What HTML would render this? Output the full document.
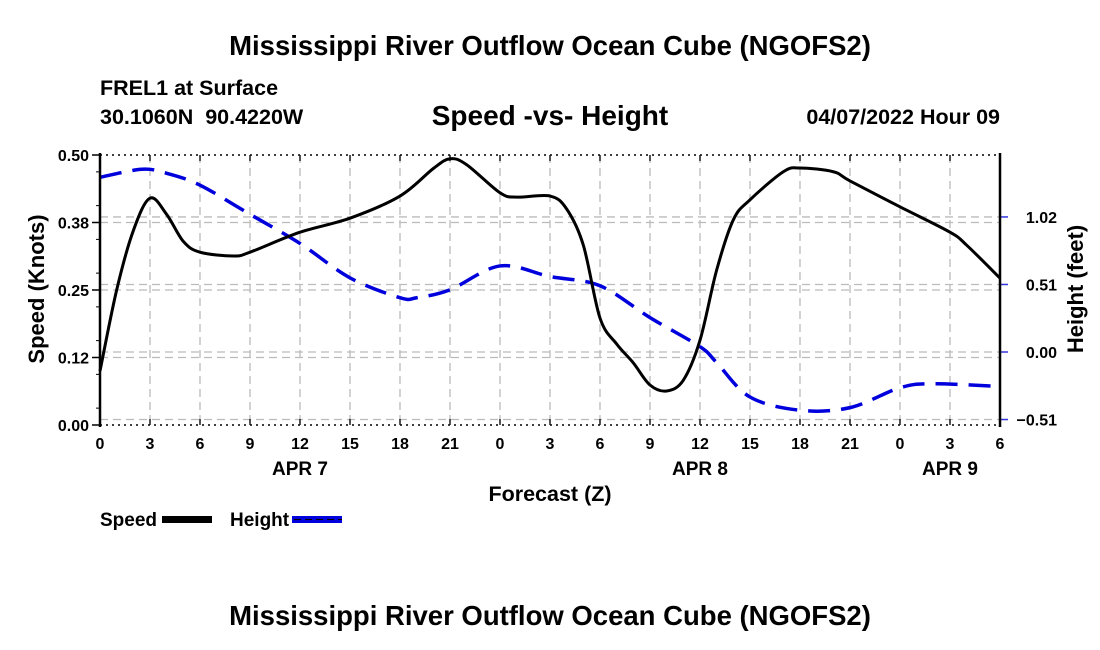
<!DOCTYPE html>
<html><head><meta charset="utf-8"><style>
body{margin:0;background:#fff;}
svg{display:block;font-family:"Liberation Sans",Arial,sans-serif;font-weight:bold;}
</style></head><body>
<svg id="chart" width="1100" height="650" viewBox="0 0 1100 650">
<text x="550" y="55" text-anchor="middle" font-size="27.5">Mississippi River Outflow Ocean Cube (NGOFS2)</text>
<text x="100" y="95" font-size="21.5">FREL1 at Surface</text>
<text x="100" y="124" font-size="21.5">30.1060N&#160;&#160;90.4220W</text>
<text x="550" y="125" text-anchor="middle" font-size="28">Speed -vs- Height</text>
<text x="1000" y="124" text-anchor="end" font-size="21.5">04/07/2022 Hour 09</text>
<g id="grid"></g>
<g id="series"></g>
<g id="axes"></g>
<text transform="translate(44,289) rotate(-90)" text-anchor="middle" font-size="22">Speed (Knots)</text>
<text transform="translate(1083,289) rotate(-90)" text-anchor="middle" font-size="22">Height (feet)</text>
<text x="550" y="501" text-anchor="middle" font-size="21.5">Forecast (Z)</text>
<g>
<text x="100" y="526" font-size="19">Speed</text>
<rect x="162" y="516" width="50" height="7" fill="#000"/>
<text x="230" y="526" font-size="19">Height</text>
<rect x="292" y="516" width="50" height="7" fill="#0000dd"/>
<line x1="294" y1="519.5" x2="342" y2="519.5" stroke="#000" stroke-width="1" stroke-dasharray="7,4"/>
</g>
<text x="550" y="625" text-anchor="middle" font-size="27.5">Mississippi River Outflow Ocean Cube (NGOFS2)</text>
</svg>
<script>
const hourLabels=[0,3,6,9,12,15,18,21,0,3,6,9,12,15,18,21,0,3,6];
const dayLabels=["APR 7","APR 8","APR 9"];
const dayLabelHours=[12,36,51];
const speedTicks=[0,0.125,0.25,0.375,0.5];
const speedTickLabels=["0.00","0.12","0.25","0.38","0.50"];
const heightTicks=[-0.51,0,0.51,1.02];
const heightTickLabels=["\u22120.51","0.00","0.51","1.02"];
const speedHours=[0,1,2,3,4,5,6,8,9,12,15,18,20,21,22,24,25,27,28,29,30,31,32,33,34,35,36,37,38,39,41,42,44,45,48,51,52,54];
const speedValues=[0.10,0.25,0.36,0.42,0.39,0.34,0.32,0.313,0.32,0.357,0.383,0.424,0.475,0.493,0.482,0.43,0.422,0.424,0.40,0.333,0.198,0.15,0.115,0.074,0.063,0.083,0.157,0.287,0.38,0.417,0.469,0.476,0.469,0.452,0.404,0.357,0.333,0.272];
const heightHours=[0,2.5,4,6,9,12,15,18,19,21,24,27,30,33,36,37,39,42,45,48,50,54];
const heightValues=[1.32,1.38,1.35,1.26,1.04,0.82,0.56,0.41,0.41,0.47,0.65,0.57,0.50,0.26,0.04,-0.08,-0.34,-0.44,-0.42,-0.27,-0.24,-0.26];

const X0=100,X1=1000,YT=155,YB=425;
const xS=h=>X0+(h/54)*(X1-X0);
const yL=v=>YB-(v/0.5)*(YB-YT);
const yR=v=>352-v*132.4;
const NS="http://www.w3.org/2000/svg";
function mk(tag,attrs,parent){const e=document.createElementNS(NS,tag);for(const k in attrs)e.setAttribute(k,attrs[k]);parent.appendChild(e);return e;}
const grid=document.getElementById('grid'),axes=document.getElementById('axes'),ser=document.getElementById('series');
const gs={stroke:"#bbb","stroke-width":1.3,"stroke-dasharray":"8,5",fill:"none"};
hourLabels.forEach((l,i)=>{const x=xS(i*3);
 if(i>0&&i<hourLabels.length-1){const g=mk('line',Object.assign({x1:x,x2:x,y1:YT,y2:YB},gs),grid);}
 const t=mk('line',{x1:x,x2:x,y1:YT,y2:YT+6,stroke:"#000","stroke-width":1.3},axes);
 const b=mk('line',{x1:x,x2:x,y1:YB,y2:YB-6,stroke:"#000","stroke-width":1.3},axes);
 const tx=mk('text',{x:x,y:YB+24,"text-anchor":"middle","font-size":16},axes);tx.textContent=l;
});
dayLabels.forEach((d,i)=>{const t=mk('text',{x:xS(dayLabelHours[i]),y:475,"text-anchor":"middle","font-size":19},axes);t.textContent=d;});
speedTicks.forEach((v,i)=>{const y=yL(v);
 if(i>0&&i<speedTicks.length-1){const g=mk('line',Object.assign({x1:X0,x2:X1,y1:y,y2:y},gs),grid);}
 const t=mk('line',{x1:X0-8,x2:X0,y1:y,y2:y,stroke:"#000","stroke-width":1.5},axes);
 const tx=mk('text',{x:X0-11,y:y+6,"text-anchor":"end","font-size":16},axes);tx.textContent=speedTickLabels[i];
});
for(let v=0.03125;v<0.5;v+=0.0625){const y=yL(v);const t=mk('line',{x1:X0-4,x2:X0,y1:y,y2:y,stroke:"#000","stroke-width":1},axes);}
heightTicks.forEach((v,i)=>{const y=yR(v);
 const g=mk('line',Object.assign({x1:X0,x2:X1,y1:y,y2:y},gs),grid);
 const t=mk('line',{x1:X1,x2:X1+8,y1:y,y2:y,stroke:"#33d","stroke-width":1.5},axes);
 const tx=mk('text',{x:X1+57,y:y+6,"text-anchor":"end","font-size":16},axes);tx.textContent=heightTickLabels[i];
});
[YT,YB].forEach(y=>{const l=mk('line',{x1:X0,x2:X1,y1:y,y2:y,stroke:"#000","stroke-width":1.5,"stroke-dasharray":"2,4"},axes);});
[X0,X1].forEach(x=>{const l=mk('line',{x1:x,x2:x,y1:YT-2,y2:YB+2,stroke:"#000","stroke-width":2.5},axes);});
function smooth(pts){let d=`M${pts[0][0]},${pts[0][1]}`;for(let i=0;i<pts.length-1;i++){const p0=pts[Math.max(0,i-1)],p1=pts[i],p2=pts[i+1],p3=pts[Math.min(pts.length-1,i+2)];
 const c1=[p1[0]+(p2[0]-p0[0])/6,p1[1]+(p2[1]-p0[1])/6],c2=[p2[0]-(p3[0]-p1[0])/6,p2[1]-(p3[1]-p1[1])/6];d+=` C${c1[0]},${c1[1]} ${c2[0]},${c2[1]} ${p2[0]},${p2[1]}`;}return d;}
const hp=mk('path',{d:smooth(heightHours.map((h,i)=>[xS(h),yR(heightValues[i])])),stroke:"#0000dd","stroke-width":3.5,fill:"none","stroke-dasharray":"22,11"},ser);

const sp=mk('path',{d:smooth(speedHours.map((h,i)=>[xS(h),yL(speedValues[i])])),stroke:"#000","stroke-width":3,fill:"none"},ser);

</script>
</body></html>
